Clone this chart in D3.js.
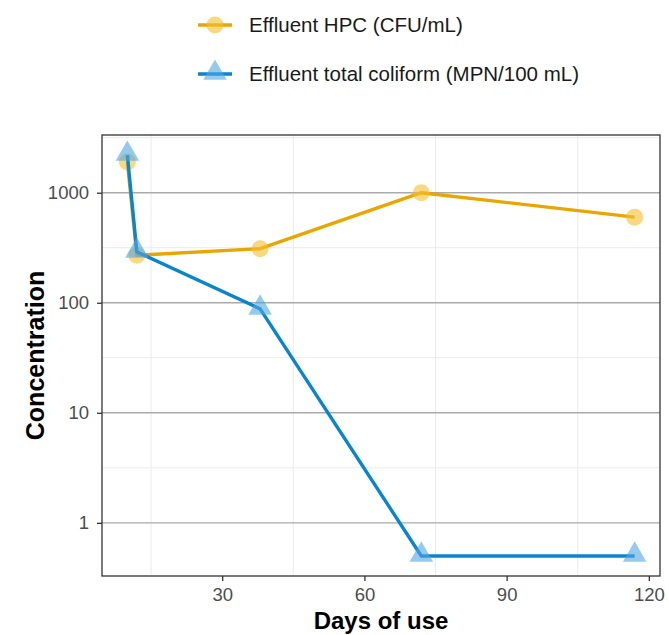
<!DOCTYPE html>
<html>
<head>
<meta charset="utf-8">
<script src="https://cdn.jsdelivr.net/npm/d3@7"></script>
<style>
  html, body { margin: 0; padding: 0; background: #fff; }
  svg { display: block; font-family: "Liberation Sans", Arial, sans-serif; }
</style>
</head>
<body>
<svg id="chart" width="669" height="635"></svg>
<script>
// Days of use at each sampling
const days = [10, 12, 38, 72, 117];
// Effluent heterotrophic plate count (CFU/mL)
const hpc = [1900, 270, 310, 1000, 600];
// Effluent total coliform (MPN/100 mL)
const coliform = [2200, 290, 88, 0.5, 0.5];

const xTicks = [30, 60, 90, 120];
const xMinor = [15, 45, 75, 105];
const yTicks = [1, 10, 100, 1000];
const yMinor = [Math.pow(10, 0.5), Math.pow(10, 1.5), Math.pow(10, 2.5), Math.pow(10, 3.5)];

const seriesNames = ["Effluent HPC (CFU/mL)", "Effluent total coliform (MPN/100 mL)"];
const lineColors = ["#E8A700", "#0A84CA"];
const pointColors = ["#F5BE2E", "#4FA6E2"];

const panel = { left: 102, right: 660, top: 135, bottom: 576 };

const svg = d3.select("#chart");

// ggplot-like 5% expansion of the data range
const xr = d3.extent(days);
const xpad = (xr[1] - xr[0]) * 0.05;
const x = d3.scaleLinear().domain([xr[0] - xpad, xr[1] + xpad]).range([panel.left, panel.right]);

const allY = hpc.concat(coliform).map(Math.log10);
const ylr = d3.extent(allY);
const ypad = (ylr[1] - ylr[0]) * 0.05;
const y = d3.scaleLog()
  .domain([Math.pow(10, ylr[0] - ypad), Math.pow(10, ylr[1] + ypad)])
  .range([panel.bottom, panel.top]);

const grid = svg.append("g");
// minor grid
grid.selectAll("line.vminor").data(xMinor).join("line")
  .attr("x1", d => x(d)).attr("x2", d => x(d))
  .attr("y1", panel.top).attr("y2", panel.bottom)
  .attr("stroke", "#ebebeb").attr("stroke-width", 1);
grid.selectAll("line.hminor").data(yMinor.filter(v => y(v) > panel.top && y(v) < panel.bottom)).join("line")
  .attr("x1", panel.left).attr("x2", panel.right)
  .attr("y1", d => y(d)).attr("y2", d => y(d))
  .attr("stroke", "#ebebeb").attr("stroke-width", 1);
// major horizontal grid
grid.selectAll("line.hmajor").data(yTicks).join("line")
  .attr("x1", panel.left).attr("x2", panel.right)
  .attr("y1", d => y(d)).attr("y2", d => y(d))
  .attr("stroke", "#aaaaaa").attr("stroke-width", 1.4);

// axes
const xAxis = svg.append("g")
  .attr("transform", `translate(0,${panel.bottom})`)
  .call(d3.axisBottom(x).tickValues(xTicks).tickSize(5).tickPadding(7).tickFormat(d3.format("d")));
const yAxis = svg.append("g")
  .attr("transform", `translate(${panel.left},0)`)
  .call(d3.axisLeft(y).tickValues(yTicks).tickSize(5).tickPadding(8).tickFormat(d3.format("d")));
[xAxis, yAxis].forEach(a => {
  a.select(".domain").remove();
  a.selectAll(".tick line").attr("stroke", "#333").attr("stroke-width", 1.3);
  a.selectAll(".tick text").attr("fill", "#4d4d4d").style("font-size", "18.5px")
    .style("font-family", "'Liberation Sans', Arial, sans-serif");
});

// series
const series = [hpc, coliform].map((vals, i) => ({
  name: seriesNames[i],
  pts: days.map((d, j) => ({ x: d, y: vals[j] }))
}));
const line = d3.line().x(d => x(d.x)).y(d => y(d.y));
const tri = d3.symbol().type(d3.symbolTriangle).size(240);

series.forEach((s, i) => {
  const g = svg.append("g");
  g.append("path").datum(s.pts).attr("d", line)
    .attr("fill", "none").attr("stroke", lineColors[i]).attr("stroke-width", 3.4)
    .attr("stroke-linejoin", "round");
  if (i === 0) {
    g.selectAll("circle").data(s.pts).join("circle")
      .attr("cx", d => x(d.x)).attr("cy", d => y(d.y)).attr("r", 8.5)
      .attr("fill", pointColors[i]).attr("fill-opacity", 0.6);
  } else {
    g.selectAll("path.pt").data(s.pts).join("path").attr("class", "pt")
      .attr("d", tri)
      .attr("transform", d => `translate(${x(d.x)},${y(d.y) - 1})`)
      .attr("fill", pointColors[i]).attr("fill-opacity", 0.6);
  }
});

// panel border
svg.append("rect")
  .attr("x", panel.left).attr("y", panel.top)
  .attr("width", panel.right - panel.left).attr("height", panel.bottom - panel.top)
  .attr("fill", "none").attr("stroke", "#333").attr("stroke-width", 1.3);

// axis titles
svg.append("text").attr("x", (panel.left + panel.right) / 2).attr("y", 629)
  .attr("text-anchor", "middle").style("font-size", "24px").style("font-weight", "bold")
  .attr("fill", "#000").text("Days of use");
svg.append("text")
  .attr("transform", `translate(44,${(panel.top + panel.bottom) / 2}) rotate(-90)`)
  .attr("text-anchor", "middle").style("font-size", "25px").style("font-weight", "bold")
  .attr("fill", "#000").text("Concentration");

// legend
const legend = svg.append("g");
const legendRows = [25, 74];
series.forEach((s, i) => {
  const cy = legendRows[i];
  const kx = 215;
  legend.append("line").attr("x1", kx - 17).attr("x2", kx + 17)
    .attr("y1", cy).attr("y2", cy)
    .attr("stroke", lineColors[i]).attr("stroke-width", 3.4);
  if (i === 0) {
    legend.append("circle").attr("cx", kx).attr("cy", cy).attr("r", 8.5)
      .attr("fill", pointColors[i]).attr("fill-opacity", 0.6);
  } else {
    legend.append("path").attr("d", tri).attr("transform", `translate(${kx},${cy - 1})`)
      .attr("fill", pointColors[i]).attr("fill-opacity", 0.6);
  }
  legend.append("text").attr("x", 249).attr("y", cy + 7)
    .style("font-size", "20.5px").attr("fill", "#1a1a1a").text(s.name);
});
</script>
</body>
</html>
